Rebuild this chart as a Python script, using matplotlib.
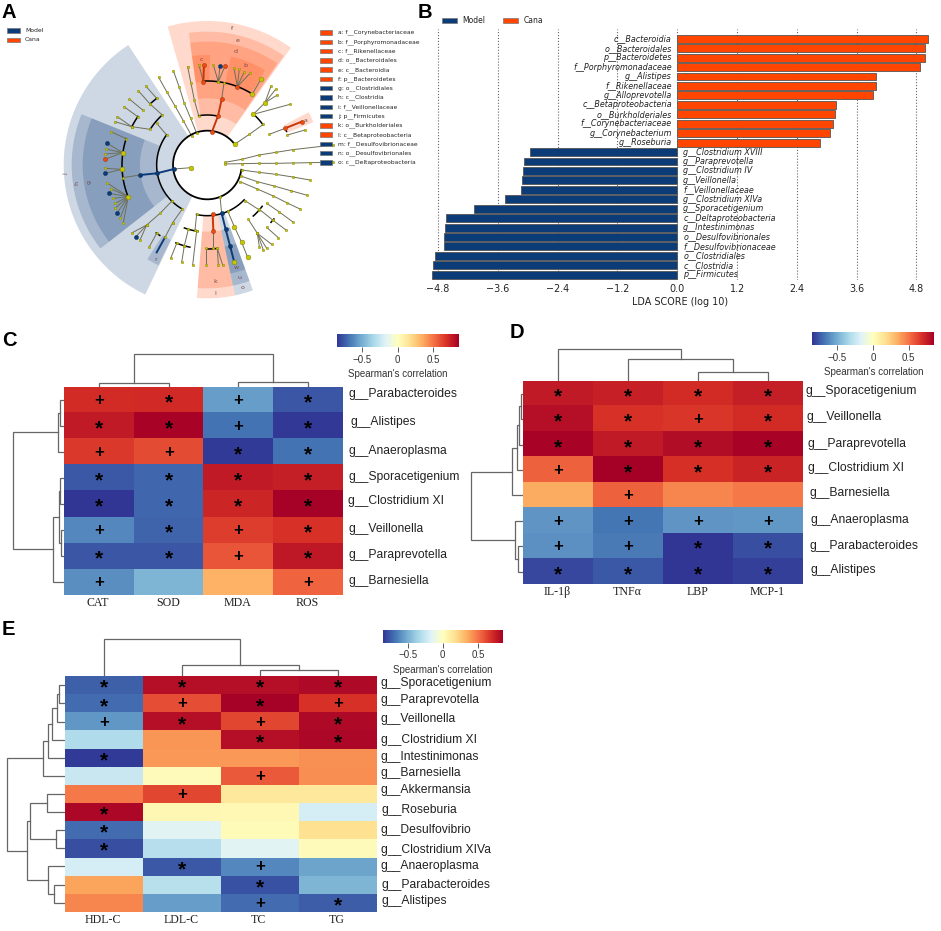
import numpy as np
import matplotlib
matplotlib.use("Agg")
import matplotlib.pyplot as plt
from matplotlib.patches import Polygon, Rectangle

W, H = 941, 931
fig = plt.figure(figsize=(W / 100, H / 100), dpi=100, facecolor="white")
BLUE, ORANGE = "#0b3c78", "#ff4500"
SANS, SERIF = "Liberation Sans", "Liberation Serif"


def axes_px(x0, y0, x1, y1, **kw):
    return fig.add_axes([x0 / W, 1 - y1 / H, (x1 - x0) / W, (y1 - y0) / H], **kw)


# ---------------------------------------------------------------- panel A data
clade_names = ["a: f__Corynebacteriaceae", "b: f__Porphyromonadaceae", "c: f__Rikenellaceae",
               "d: o__Bacteroidales", "e: c__Bacteroidia", "f: p__Bacteroidetes",
               "g: o__Clostridiales", "h: c__Clostridia", "i: f__Veillonellaceae",
               "j: p__Firmicutes", "k: o__Burkholderiales", "l: c__Betaproteobacteria",
               "m: f__Desulfovibrionaceae", "n: o__Desulfovibrionales", "o: c__Deltaproteobacteria"]
clade_groups = ["Cana"] * 6 + ["Model"] * 4 + ["Cana"] * 2 + ["Model"] * 3

# clade shading: first angle, last angle, inner radius, outer radius, group
shades = [(123.4, 244.4, 105, 431, "Model"), (158, 218, 152, 407, "Model"), (158, 218, 202, 374, "Model"),
          (54.5, 106, 105, 432, "Cana"), (55, 98, 150, 400, "Cana"), (55.5, 98, 200, 370, "Cana"),
          (88.6, 98, 250, 330, "Cana"), (58.7, 77.7, 250, 333, "Cana"), (22, 27.5, 258, 343, "Cana"),
          (265.5, 282, 150, 400, "Cana"), (265.5, 282, 200, 370, "Cana"),
          (282, 290, 150, 400, "Model"), (282, 290, 200, 370, "Model"), (282, 290, 250, 333, "Model"),
          (237.5, 244, 250, 335, "Model")]
# tree arcs: first angle, last angle, radius
tree_arcs = [(132, 148, 202), (143.6, 225.5, 152), (226, 240, 152), (257.7, 316.6, 152),
             (162, 202, 256), (100, 77, 150), (57.6, 92.7, 252), (36, 48, 206), (23, 25, 258),
             (250, 262, 201), (248, 258, 252), (270, 277, 252), (312, 323, 206), (318, 321, 257),
             (127, 133, 251), (145, 153, 254), (233, 236, 255)]
gray_chains = [
    [(705, 432), (748, 403), (790, 373)], [(760, 343), (795, 308), (813, 258)], [(795, 308), (827, 268)],
    [(795, 308), (832, 285)], [(760, 343), (870, 313)], [(808, 403), (855, 385)], [(862, 405), (915, 390)],
    [(675, 487), (725, 478), (777, 465), (828, 457), (878, 449), (1000, 435)],
    [(675, 492), (725, 491), (777, 490), (828, 490), (878, 489), (930, 488), (1000, 487)],
    [(725, 510), (777, 517), (828, 523), (878, 531), (930, 540)],
    [(722, 528), (772, 545), (822, 558), (872, 572), (922, 586)],
    [(720, 545), (772, 567), (820, 588), (860, 608), (900, 627)],
    [(660, 590), (665, 640)], [(683, 633), (703, 680), (725, 727), (743, 772)],
    [(590, 642), (585, 690)], [(565, 688), (553, 737)], [(530, 730), (512, 775)], [(553, 737), (545, 787)],
    [(590, 692), (578, 795)], [(640, 692), (640, 745)], [(618, 745), (618, 795)], [(652, 745), (655, 795)],
    [(652, 745), (668, 795)], [(735, 602), (778, 630)], [(800, 610), (838, 636), (880, 667)],
    [(778, 628), (818, 660)], [(818, 660), (858, 690)], [(800, 682), (835, 713)], [(745, 658), (772, 700)],
    [(772, 700), (790, 750)], [(772, 700), (815, 733)], [(772, 700), (800, 745)], [(772, 700), (778, 740)],
    [(575, 408), (550, 362), (525, 318), (500, 275), (476, 232)],
    [(590, 400), (572, 355), (553, 310), (538, 262), (520, 212)],
    [(596, 347), (583, 300), (573, 250), (563, 200)],
    [(610, 245), (597, 195)], [(655, 245), (640, 195)], [(655, 245), (660, 197)], [(655, 245), (675, 198)],
    [(712, 260), (702, 205)], [(712, 260), (718, 207)], [(712, 260), (733, 215)], [(712, 260), (750, 220)],
    [(757, 282), (783, 237)], [(665, 298), (672, 248)], [(522, 507), (573, 503)], [(420, 525), (368, 533)],
    [(368, 458), (322, 430)], [(368, 458), (318, 447)], [(368, 458), (315, 462)], [(368, 458), (314, 478)],
    [(366, 508), (314, 505)], [(366, 508), (316, 520)], [(378, 416), (333, 395)],
    [(385, 590), (320, 548)], [(385, 590), (332, 566)], [(385, 590), (327, 580)], [(385, 590), (340, 595)],
    [(385, 590), (345, 610)], [(385, 590), (345, 625)], [(385, 590), (352, 638)], [(385, 590), (360, 655)],
    [(385, 590), (370, 668)], [(500, 405), (470, 370)], [(487, 345), (450, 312)], [(450, 312), (415, 272)],
    [(470, 295), (437, 258)], [(450, 388), (395, 380)], [(395, 380), (352, 350)], [(395, 380), (345, 365)],
    [(413, 350), (372, 320)], [(428, 330), (388, 297)], [(516, 603), (480, 640), (440, 675)],
    [(440, 675), (397, 698)], [(440, 675), (408, 710)], [(440, 675), (420, 720)], [(547, 627), (518, 668)],
    [(518, 668), (495, 712)], [(470, 700), (447, 742)]]
cana_chains = [[(636, 395), (654, 348), (665, 298)], [(610, 245), (612, 195)], [(855, 385), (905, 365)],
               [(638, 642), (640, 692)]]
model_chains = [[(522, 507), (470, 520), (420, 525)], [(665, 640), (677, 688), (690, 737)],
                [(690, 737), (703, 787)], [(495, 712), (470, 757)]]
large_nodes = [(705, 432), (760, 343), (795, 308), (573, 503), (757, 282), (783, 237), (368, 458), (366, 508),
               (385, 590), (743, 772), (703, 787), (703, 680), (725, 727)]
cana_nodes = [(636, 395), (654, 348), (665, 298), (610, 245), (712, 260), (612, 195), (675, 198), (855, 385),
              (905, 365), (314, 478), (638, 642), (640, 692)]
model_nodes = [(522, 507), (470, 520), (420, 525), (665, 640), (677, 688), (690, 737), (660, 197), (322, 430),
               (316, 520), (327, 580), (352, 638), (408, 710)]
clade_letters = [("f", 695, 85, 0), ("e", 713, 122, 0), ("d", 706, 155, 0), ("c", 603, 178, 0), ("b", 735, 197, 0),
                 ("j", 197, 522, 90), ("h", 232, 550, 90), ("g", 268, 545, 90), ("r", 468, 778, 0),
                 ("a", 917, 360, 0), ("l", 646, 880, 0), ("k", 645, 845, 0), ("w", 708, 802, 0),
                 ("u", 718, 833, 0), ("o", 727, 863, 0)]
ROOT = (622, 495)
ROOT_R = 103


def arc_xy(a0, a1, r0):
    t = np.radians(np.linspace(a0, a1, 60))
    return ROOT[0] + r0 * np.cos(t), ROOT[1] - r0 * np.sin(t)


axA = axes_px(0, 0, 420, 310)
axA.set_xlim(0, 1260)
axA.set_ylim(930, 0)
axA.axis("off")
for a0, a1, r0, r1, grp in shades:
    xo, yo = arc_xy(a0, a1, r1)
    xi, yi = arc_xy(a1, a0, r0)
    axA.add_patch(Polygon(np.c_[np.r_[xo, xi], np.r_[yo, yi]], closed=True, lw=0, alpha=0.2,
                          fc=BLUE if grp == "Model" else ORANGE, zorder=1))
xc, yc = arc_xy(37, 352, ROOT_R)
axA.plot(xc, yc, color="k", lw=1.3, zorder=3)
for a0, a1, r0 in tree_arcs:
    xc, yc = arc_xy(a0, a1, r0)
    axA.plot(xc, yc, color="k", lw=1.1, zorder=3)
for ch in gray_chains:
    p = np.array(ch)
    axA.plot(p[:, 0], p[:, 1], color="#6e6e5a", lw=0.7, zorder=2)
    axA.scatter(p[:, 0], p[:, 1], s=3.5, c="#c6c600", edgecolors="#77771a", linewidths=0.25, zorder=5)
for chains, col in ((cana_chains, "#c8360a"), (model_chains, BLUE)):
    for ch in chains:
        p = np.array(ch)
        axA.plot(p[:, 0], p[:, 1], color=col, lw=1.4, zorder=4)
n = np.array(large_nodes)
axA.scatter(n[:, 0], n[:, 1], s=12, c="#c6c600", edgecolors="#77771a", linewidths=0.3, zorder=6)
n = np.array(cana_nodes)
axA.scatter(n[:, 0], n[:, 1], s=9, c="#f04a10", edgecolors="#8a3010", linewidths=0.3, zorder=7)
n = np.array(model_nodes)
axA.scatter(n[:, 0], n[:, 1], s=9, c=BLUE, edgecolors="#0a2a50", linewidths=0.3, zorder=7)
for s, x, y, rot in clade_letters:
    axA.text(x, y, s, fontsize=4.5, color="#7a4a4a", ha="center", va="center", rotation=rot, zorder=8)

# ---------------------------------------------------------------- panel B data
cana_taxa = ["c__Bacteroidia", "o__Bacteroidales", "p__Bacteroidetes", "f__Porphyromonadaceae", "g__Alistipes",
             "f__Rikenellaceae", "g__Alloprevotella", "c__Betaproteobacteria", "o__Burkholderiales",
             "f__Corynebacteriaceae", "g__Corynebacterium", "g__Roseburia"]
cana_lda = [5.03, 4.97, 4.97, 4.88, 4.00, 3.99, 3.94, 3.19, 3.17, 3.13, 3.06, 2.87]
model_taxa = ["g__Clostridium XVIII", "g__Paraprevotella", "g__Clostridium IV", "g__Veillonella",
              "f__Veillonellaceae", "g__Clostridium XIVa", "g__Sporacetigenium", "c__Deltaproteobacteria",
              "g__Intestinimonas", "o__Desulfovibrionales", "f__Desulfovibrionaceae", "o__Clostridiales",
              "c__Clostridia", "p__Firmicutes"]
model_lda = [-2.96, -3.08, -3.10, -3.12, -3.14, -3.45, -4.09, -4.65, -4.67, -4.68, -4.69, -4.86, -4.90, -4.93]
lda_ticks = [-4.8, -3.6, -2.4, -1.2, 0.0, 1.2, 2.4, 3.6, 4.8]

axB = axes_px(430.7, 29, 928.5, 279.5)
taxa = cana_taxa + model_taxa
vals = cana_lda + model_lda
rows = np.arange(len(taxa))
axB.barh(rows, vals, height=0.84, color=[ORANGE if v > 0 else BLUE for v in vals],
         edgecolor="#555555", linewidth=0.6, zorder=3)
axB.set_xlim(-4.95, 5.045)
axB.set_ylim(len(taxa) - 0.5, -1.03)
axB.set_yticks([])
axB.set_xticks(lda_ticks)
axB.set_xticklabels([f"{t:.1f}".replace("-", "\u2212") for t in lda_ticks], fontsize=6.9, color="#222222")
axB.tick_params(axis="x", length=0, pad=3.5)
axB.xaxis.grid(True, linestyle=":", color="#666666", linewidth=0.8, zorder=0)
for s in axB.spines.values():
    s.set_visible(False)
axB.set_xlabel("LDA SCORE (log 10)", fontsize=6.9, color="#222222", labelpad=2)
for i, (t, v) in enumerate(zip(taxa, vals)):
    if v > 0:
        axB.text(-0.11, i, t, ha="right", va="center", style="italic", fontsize=5.8, color="#222222", zorder=4)
    else:
        axB.text(0.12, i, t, ha="left", va="center", style="italic", fontsize=5.8, color="#222222", zorder=4)

# ---------------------------------------------------------------- heat map data
c_cols = ["CAT", "SOD", "MDA", "ROS"]
c_rows = ["g__Parabacteroides", "g__Alistipes", "g__Anaeroplasma", "g__Sporacetigenium", "g__Clostridium XI",
          "g__Veillonella", "g__Paraprevotella", "g__Barnesiella"]
c_vals = [[.70, .71, -.55, -.76], [.76, .84, -.68, -.84], [.66, .61, -.83, -.68], [-.75, -.71, .76, .75],
          [-.85, -.71, .72, .85], [-.62, -.72, .65, .68], [-.76, -.76, .58, .77], [-.60, -.47, .33, .54]]
c_marks = ["+*+*", "**+*", "++**", "****", "****", "+*+*", "**+*", "+  +"]
c_row_tree = (((0, 1, 13), 2, 19), (((3, 4, 13), (5, 6, 11), 17), 7, 33), 155)
c_col_tree = ((0, 1, 10), (2, 3, 13), 98)

d_cols = ["IL-1\u03b2", "TNF\u03b1", "LBP", "MCP-1"]
d_rows = ["g__Sporacetigenium", "g__Veillonella", "g__Paraprevotella", "g__Clostridium XI", "g__Barnesiella",
          "g__Anaeroplasma", "g__Parabacteroides", "g__Alistipes"]
d_vals = [[.76, .74, .70, .75], [.80, .68, .67, .70], [.84, .76, .81, .84], [.55, .86, .69, .73],
          [.35, .55, .45, .48], [-.58, -.67, -.58, -.57], [-.59, -.66, -.85, -.78], [-.80, -.75, -.85, -.82]]
d_marks = ["****", "**+*", "****", "+***", " +  ", "++++", "++**", "****"]
d_row_tree = ((((((0, 1, 8), 2, 13), 3, 18), 4, 35), (5, (6, 7, 15), 25), 156))
d_col_tree = (0, (1, (2, 3, 28), 65), 97)

e_cols = ["HDL-C", "LDL-C", "TC", "TG"]
e_rows = ["g__Sporacetigenium", "g__Paraprevotella", "g__Veillonella", "g__Clostridium XI", "g__Intestinimonas",
          "g__Barnesiella", "g__Akkermansia", "g__Roseburia", "g__Desulfovibrio", "g__Clostridium XIVa",
          "g__Anaeroplasma", "g__Parabacteroides", "g__Alistipes"]
e_vals = [[-.73, .80, .80, .82], [-.70, .60, .85, .68], [-.57, .80, .62, .82], [-.32, .41, .80, .83],
          [-.83, .40, .40, .42], [-.24, .02, .57, .43], [.48, .62, .13, .13], [.83, .05, .04, -.20],
          [-.70, -.15, .03, .17], [-.78, -.30, -.15, .02], [-.20, -.75, -.62, -.53], [.37, -.29, -.77, -.47],
          [.45, -.55, -.70, -.74]]
e_marks = ["****", "*+*+", "+*+*", "  **", "*   ", "  + ", " +  ", "*   ", "*   ", "*   ", " *+ ", "  * ", "  +*"]
e_left = (((((0, 1, 18), 2, 24), 3, 39), 4, 49), 5, 65)
e_right = (((6, 7, 53), (8, 9, 25), 104), (10, (11, 12, 31), 51), 114)
e_row_tree = (e_left, e_right, 174)
e_col_tree = (0, (1, (2, 3, 19), 34), 112)

# label jitter of the original, in pixels
c_dx = [6.3, 8, 5.7, 5.7, 5.7, 6.3, 6.3, 6.3]
c_dy = [5.7, 4, .7, .7, 2.7, 1.3, 1.3, .7]
d_dx = [2.7, 3.3, 4.7, 4.7, 6, 7.3, 6.7, 7.3]
d_dy = [3, 1.7, 1, 2.3, 2.7, .7, .3, 1.7]
e_dx = [3.5, 3.5, 4, 4, 4, 4, 4, 4.5, 4, 4, 4, 4.5, 4.5]
e_dy = [2.7, 3.3, 2.3, 0, .7, 3.3, 3.7, 2, 0, -2, 0, 0, 1.7]
VMIN, VMAX = -0.85, 0.86
BAR_TICKS = [-0.5, 0, 0.5]


def dendro(ax, node, horizontal):
    """Draw a nested (left, right, height) tree; returns leaf position and height."""
    if isinstance(node, int):
        return node, 0
    pl, hl = dendro(ax, node[0], horizontal)
    pr, hr = dendro(ax, node[1], horizontal)
    h = node[2]
    a, b = [pl, pl, pr, pr], [hl, h, h, hr]
    if horizontal:
        ax.plot(b, a, color="#666666", lw=0.9, solid_joinstyle="miter")
    else:
        ax.plot(a, b, color="#666666", lw=0.9, solid_joinstyle="miter")
    return (pl + pr) / 2, h


def heat_panel(box, rows_, cols_, vals_, marks, rtree, ctree, dx, dy, rden_w, cden_h, cbar_box, label_y):
    x0, y0, x1, y1 = box
    ax = axes_px(x0, y0, x1, y1)
    im = ax.imshow(np.array(vals_), cmap="RdYlBu_r", vmin=VMIN, vmax=VMAX, aspect="auto", interpolation="nearest")
    ax.set_xticks([])
    ax.set_yticks([])
    for s in ax.spines.values():
        s.set_visible(False)
    for i, row in enumerate(marks):
        for j, m in enumerate(row):
            if m == "*":
                ax.annotate("*", (j, i), xytext=(0, -3), textcoords="offset pixels", ha="center", va="center",
                            fontsize=15, family=SANS, weight="bold", color="k")
            elif m == "+":
                ax.annotate("+", (j, i), xytext=(0, -0.5), textcoords="offset pixels", ha="center", va="center",
                            fontsize=12, family=SANS, weight="bold", color="k")
    for i, lab in enumerate(rows_):
        ax.annotate(lab, xy=(1, i), xycoords=("axes fraction", "data"), xytext=(dx[i], dy[i]),
                    textcoords="offset pixels", ha="left", va="center", fontsize=8.7, family=SANS, color="#222222")
    for j, lab in enumerate(cols_):
        ax.annotate(lab, xy=(j, 0), xycoords=("data", "axes fraction"), xytext=(-1, label_y),
                    textcoords="offset pixels", ha="center", va="center", fontsize=8.6, family=SERIF,
                    color="#222222")
    rd = axes_px(x0 - rden_w / 3, y0, x0, y1)
    rd.set_xlim(rden_w, 0)
    rd.set_ylim(len(rows_) - 0.5, -0.5)
    rd.axis("off")
    dendro(rd, rtree, True)
    cd = axes_px(x0, y0 - cden_h / 3, x1, y0)
    cd.set_xlim(-0.5, len(cols_) - 0.5)
    cd.set_ylim(0, cden_h)
    cd.axis("off")
    dendro(cd, ctree, False)
    cax = axes_px(*cbar_box)
    cb = fig.colorbar(im, cax=cax, orientation="horizontal", ticks=BAR_TICKS)
    cb.ax.set_xticklabels(["\u22120.5", "0", "0.5"], fontsize=7, family=SANS, color="#333333")
    cb.ax.tick_params(length=3.5, width=0.6, pad=2, color="#444444")
    cb.outline.set_visible(False)
    cb.set_label("Spearman's correlation", fontsize=7, family=SANS, color="#333333", labelpad=3)


heat_panel((64.3, 386.7, 342.7, 595), c_rows, c_cols, c_vals, c_marks, c_row_tree, c_col_tree, c_dx, c_dy,
           160, 102, (337, 334.3, 459, 347.3), -8)
heat_panel((523.3, 381, 803.3, 584.3), d_rows, d_cols, d_vals, d_marks, d_row_tree, d_col_tree, d_dx, d_dy,
           160, 100, (812.3, 332.3, 934.3, 345), -8)
heat_panel((64.7, 676.3, 376.7, 911.7), e_rows, e_cols, e_vals, e_marks, e_row_tree, e_col_tree, e_dx, e_dy,
           178, 115, (383, 630, 503.3, 642.7), -8.5)

# ---------------------------------------------------------------- overlay: legends and panel letters
ov = fig.add_axes([0, 0, 1, 1], zorder=20)
ov.set_xlim(0, W)
ov.set_ylim(H, 0)
ov.axis("off")
ov.patch.set_alpha(0)
col_of = {"Model": BLUE, "Cana": ORANGE}


def swatch(x, y, w, h, grp):
    ov.add_patch(Rectangle((x, y), w, h, fc=col_of[grp], ec="#777777", lw=0.5))


swatch(7, 28, 13, 4.5, "Model")
swatch(7, 37.5, 13, 4.5, "Cana")
ov.text(25, 30.2, "Model", fontsize=4.4, va="center", color="#222222")
ov.text(25, 39.8, "Cana", fontsize=4.4, va="center", color="#222222")
for i, (name, grp) in enumerate(zip(clade_names, clade_groups)):
    y = 32.5 + 9.29 * i
    swatch(320, y - 2.2, 12.5, 4.4, grp)
    ov.text(338, y, name, fontsize=4.35, va="center", color="#222222")
swatch(442, 17.7, 15.5, 5.6, "Model")
swatch(503, 17.7, 15, 5.6, "Cana")
ov.text(462.7, 20.6, "Model", fontsize=5.5, va="center", color="#222222")
ov.text(523.7, 20.6, "Cana", fontsize=5.5, va="center", color="#222222")
for s, x, y in (("A", 2, 18.5), ("B", 418, 18), ("C", 2, 346.5), ("D", 510, 338.5), ("E", 2, 635)):
    ov.text(x, y, s, fontsize=14.5, family=SANS, weight="bold", color="k", va="baseline")

fig.savefig("out.png", dpi=100, facecolor="white")
